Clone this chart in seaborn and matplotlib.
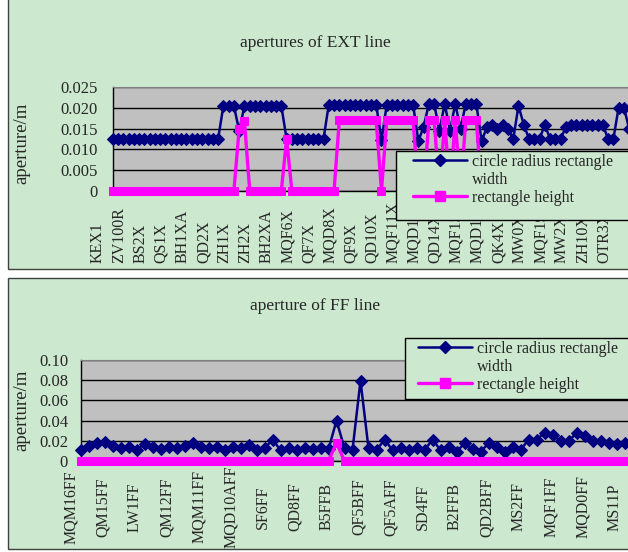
import matplotlib
matplotlib.use("Agg")
import matplotlib.pyplot as plt
import matplotlib.transforms as mtransforms
from matplotlib.lines import Line2D
from matplotlib.patches import Rectangle
import seaborn as sns

# ---- data: EXT line ----
ext_names = ['KEX1', 'ZV100R', 'BS2X', 'QS1X', 'BH1XA', 'QD2X', 'ZH1X', 'ZH2X', 'BH2XA',
             'MQF6X', 'QF7X', 'MQD8X', 'QF9X', 'QD10X', 'MQF11X', 'MQD12X', 'QD14X',
             'MQF15X', 'MQD16X', 'QK4X', 'MW0X', 'MQF19X', 'MW2X', 'ZH10X', 'OTR3X']
ext_width = ([0.0125] * 21 + [0.0205] * 3 + [0.0145] + [0.0205] * 8 + [0.0125] * 8
             + [0.0208] * 10 + [0.0122] + [0.0208] * 6 + [0.012]
             + [0.0155, 0.021, 0.021, 0.0145, 0.021, 0.0145, 0.021, 0.015, 0.021, 0.021, 0.021, 0.012,
                0.0153, 0.016, 0.015, 0.016, 0.015, 0.0125, 0.0205, 0.016, 0.0125, 0.0125, 0.0125,
                0.016, 0.0125, 0.0125, 0.0125, 0.0155, 0.016, 0.016, 0.016, 0.016, 0.016, 0.016,
                0.016, 0.0125, 0.0125, 0.0201, 0.0201, 0.015, 0.0125])
ext_height = ([0] * 24 + [0.015, 0.0168] + [0] * 7 + [0.0125] + [0] * 9 + [0.017] * 8 + [0]
              + [0.017] * 6 + [0, 0, 0.017, 0.017, 0, 0.017, 0, 0.017, 0, 0.017, 0.017, 0.017]
              + [0] * 30)

# ---- data: FF line ----
ff_names = ['MQM16FF', 'QM15FF', 'LW1FF', 'QM12FF', 'MQM11FF', 'MQD10AFF', 'SF6FF', 'QD8FF',
            'B5FFB', 'QF5BFF', 'QF5AFF', 'SD4FF', 'B2FFB', 'QD2BFF', 'MS2FF', 'MQF1FF',
            'MQD0FF', 'MS11P']
ff_width = [0.011, 0.015, 0.0175, 0.019, 0.015, 0.0126, 0.0142, 0.011, 0.0168, 0.0136,
            0.0116, 0.0142, 0.0126, 0.015, 0.0175, 0.0142, 0.0126, 0.0136, 0.011, 0.0136,
            0.0126, 0.0158, 0.011, 0.0126, 0.021, 0.011, 0.0126, 0.011, 0.0126, 0.0116,
            0.0126, 0.0116, 0.040, 0.0126, 0.011, 0.0795, 0.0126, 0.011, 0.021, 0.011,
            0.0126, 0.011, 0.0126, 0.011, 0.021, 0.011, 0.0136, 0.0092, 0.0175, 0.0116,
            0.0092, 0.0175, 0.0136, 0.0092, 0.0136, 0.011, 0.021, 0.021, 0.028, 0.0257,
            0.020, 0.020, 0.0274, 0.0248, 0.020, 0.020, 0.0175, 0.0168, 0.0175, 0.018,
            0.018, 0.018]
ff_height = [0] * 32 + [0.018] + [0] * 39

NAVY = '#000080'
PINK = '#FF00FF'
PANEL = '#CCE8CF'
PLOT_BG = '#C0C0C0'
W, H = 628, 552

sns.set_style('white')
plt.rcParams['font.family'] = ['Liberation Serif', 'DejaVu Serif']

fig = plt.figure(figsize=(W / 100, H / 100), dpi=100)


def px(x0, y0, x1, y1):
    # pixel box (top-left origin) -> figure fraction rect
    return [x0 / W, 1 - y1 / H, (x1 - x0) / W, (y1 - y0) / H]


def box(x0, y0, x1, y1, z, edge):
    r = px(x0, y0, x1, y1)
    fig.patches.append(Rectangle((r[0], r[1]), r[2], r[3], transform=fig.transFigure,
                                 facecolor=PANEL, edgecolor=edge, lw=1, zorder=z))


# panel backgrounds
box(8, -5, 640, 269, -5, '#404040')
box(8, 278, 640, 549, -5, '#404040')


def draw_panel(rect, names, width, height, step, ymax, yticks, ylabels, title, title_y,
               ylab_y, lab_dx, lab_pad, lab_va, ypad, leg_frame, leg_xy):
    ax = fig.add_axes(rect)
    ax.set_facecolor(PLOT_BG)
    idx = list(range(len(width)))
    sns.lineplot(x=idx, y=width, ax=ax, color=NAVY, marker='D', markersize=6.2,
                 markeredgecolor=NAVY, lw=1.8, clip_on=False, zorder=3)
    sns.lineplot(x=idx, y=height, ax=ax, color=PINK, marker='s', markersize=6,
                 markeredgecolor=PINK, lw=2.4, clip_on=False, zorder=4)
    ax.set_xlim(0, len(width) - 0.5)
    ax.set_ylim(0, ymax)
    ax.set_yticks(yticks)
    ax.set_yticklabels(ylabels, fontsize=12)
    ax.yaxis.grid(True, color='black', lw=1)
    ax.set_axisbelow(True)
    ax.set_xticks(list(range(0, len(names) * step, step)))
    ax.set_xticklabels(names, rotation=90, fontsize=11.5, va=lab_va)
    ax.set_xticks(idx, minor=True)
    ax.tick_params(axis='x', which='both', direction='in', length=3, pad=lab_pad, color='black')
    ax.tick_params(axis='y', direction='out', length=3, pad=ypad, color='black')
    off = mtransforms.ScaledTranslation(lab_dx / 100, 0, fig.dpi_scale_trans)
    for lab in ax.get_xticklabels():
        lab.set_transform(lab.get_transform() + off)
    ax.set_xlabel('')
    ax.set_ylabel('')
    for s in ['left', 'bottom']:
        ax.spines[s].set_color('black')
        ax.spines[s].set_linewidth(1)
    ax.spines['top'].set_color('#808080')
    ax.spines['right'].set_visible(False)

    fig.text(315 / W, 1 - title_y / H, title, ha='center', va='center', fontsize=12.5)
    fig.text(22 / W, 1 - ylab_y / H, 'aperture/m', rotation=90, ha='center', va='center',
             fontsize=13.5)

    # legend frame drawn as a plain box that runs off the right edge
    box(*leg_frame, 4, 'black')
    handles = [Line2D([], [], color=NAVY, marker='D', markersize=6.5, lw=1.8),
               Line2D([], [], color='none'),
               Line2D([], [], color=PINK, marker='s', markersize=6.5, lw=2.4)]
    leg = fig.legend(handles, ['circle radius rectangle', 'width', 'rectangle height'],
                     loc='upper left', bbox_to_anchor=(leg_xy[0] / W, 1 - leg_xy[1] / H),
                     bbox_transform=fig.transFigure, fontsize=11.5, frameon=False,
                     handlelength=3.4, handletextpad=0.3, labelspacing=0.12,
                     borderpad=0, borderaxespad=0)
    leg.set_zorder(6)
    return ax


draw_panel(px(112.7, 87.3, 112.7 + 99.5 * 5.27, 190.7), ext_names, ext_width, ext_height,
           4, 0.025, [0, 0.005, 0.01, 0.015, 0.02, 0.025],
           ['0', '0.005', '0.010', '0.015', '0.020', '0.025'],
           'apertures of EXT line', 43, 143, -14.7, 52, 'bottom', 8,
           (396, 151, 720, 220), (413, 154))

draw_panel(px(80.5, 360, 80.5 + 71.5 * 8.0, 461), ff_names, ff_width, ff_height,
           4, 0.10, [0, 0.02, 0.04, 0.06, 0.08, 0.10],
           ['0', '0.02', '0.04', '0.06', '0.08', '0.10'],
           'aperture of FF line', 306, 410, -9.7, 33, 'center', 6,
           (405, 338, 720, 399), (418, 341))

fig.savefig('out.png', dpi=100)
